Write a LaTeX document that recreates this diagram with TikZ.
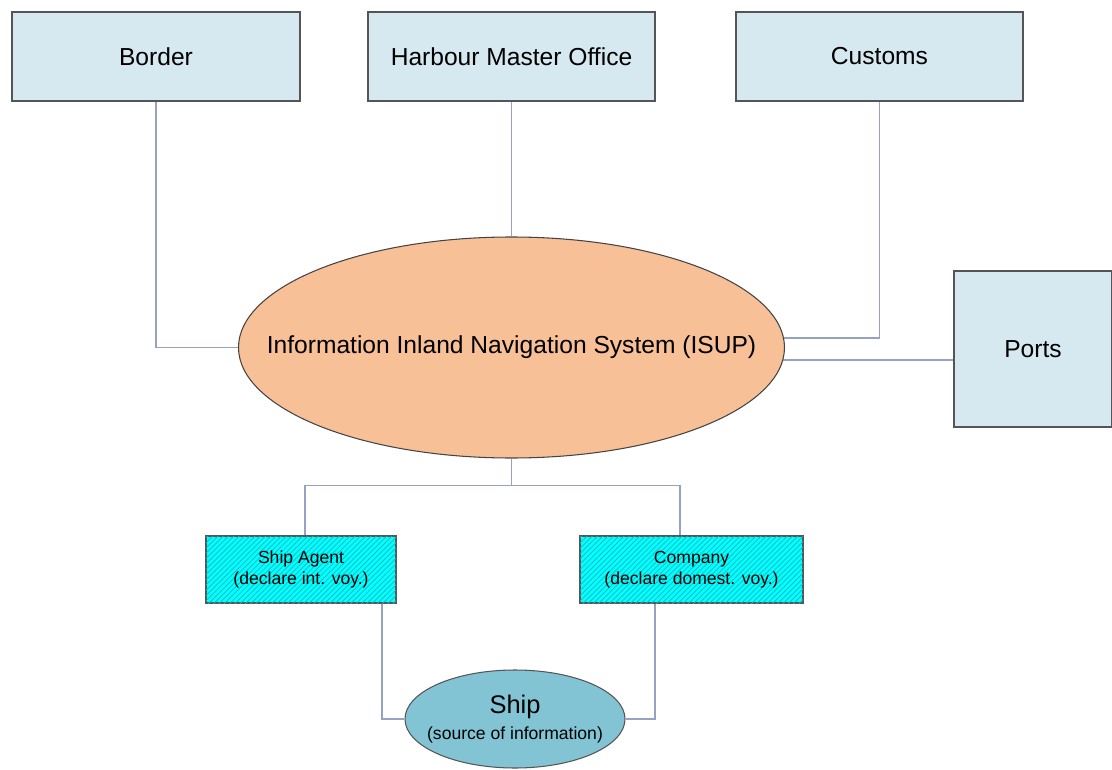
\documentclass[tikz,border=0pt]{standalone}
\usepackage{fontspec}
\setmainfont{Liberation Sans}
\usetikzlibrary{shapes.geometric,patterns,calc,backgrounds}
\definecolor{boxfill}{RGB}{214,233,241}
\definecolor{boxdraw}{RGB}{85,85,85}
\definecolor{conn}{RGB}{150,162,192}
\definecolor{isupfill}{RGB}{248,192,150}
\definecolor{shipfill}{RGB}{130,196,212}
\definecolor{agentfill}{RGB}{0,255,255}
\definecolor{hatch}{RGB}{30,180,190}
\tikzset{
  topbox/.style={draw=boxdraw, line width=0.8pt, fill=boxfill, inner sep=0pt,
    minimum height=89*0.02cm, font=\fontsize{14}{16}\selectfont},
  ellbig/.style={ellipse, draw=boxdraw!80!black, line width=0.6pt, fill=isupfill, inner sep=0pt,
    minimum width=546*0.02cm, minimum height=221*0.02cm, font=\fontsize{14}{16}\selectfont},
  hatchbox/.style={draw=boxdraw, line width=0.8pt, fill=agentfill,
    postaction={pattern=north east lines, pattern color=hatch},
    inner sep=0pt, minimum height=67*0.02cm, align=center,
    font=\fontsize{10}{12}\selectfont},
  shipell/.style={ellipse, draw=boxdraw, line width=0.6pt, fill=shipfill, inner sep=0pt,
    minimum width=220*0.02cm, minimum height=98*0.02cm, align=center},
  link/.style={draw=conn, line width=0.6pt}
}
\begin{document}
\begin{tikzpicture}[x=0.02cm,y=-0.02cm]
\useasboundingbox (0,0) rectangle (1112,770);
\node[topbox, minimum width=288*0.02cm] (border) at (156,56.5) {Border};
\node[topbox, minimum width=287*0.02cm] (hmo) at (511.5,56.5) {Harbour Master Office};
\node[topbox, minimum width=287*0.02cm] (customs) at (879.5,56.5) {Customs};
\node[topbox, minimum width=158*0.02cm, minimum height=156*0.02cm] (ports) at (1033,349) {Ports};
\node[ellbig] (isup) at (511.5,347.5) {\makebox[0pt]{Information Inland Navigation System (ISUP)}};
\node[hatchbox, minimum width=190*0.02cm] (agent) at (301,569.5) {Ship Agent\\(declare int. voy.)};
\node[hatchbox, minimum width=223*0.02cm] (company) at (691.5,569.5) {Company\\(declare domest. voy.)};
\node[shipell] (ship) at (515,719) {\makebox[0pt]{\fontsize{14.5}{16}\selectfont Ship}\\[3pt]\makebox[0pt]{\fontsize{10}{12}\selectfont (source of information)}};
\begin{scope}[on background layer]
\fill[white] (0,0) rectangle (1112,770);
\draw[link] (border.south) |- (isup.west);
\draw[link] (hmo.south) -- (isup.north);
\draw[link] (customs.south) |- ($(isup.east)+(-10,-9.5)$);
\draw[link] ($(isup.east)+(-10,12.5)$) -- (ports.west |- {$(isup.east)+(0,12.5)$});
\draw[link] (isup.south) -- ++(0,26.5) coordinate (j);
\draw[link] (j) -| ($(agent.north)+(4,0)$);
\draw[link] (j) -| ($(company.north)+(-11.5,0)$);
\draw[link] ($(agent.south)+(81,0)$) |- (ship.west);
\draw[link] ($(company.south)+(-36.5,0)$) |- (ship.east);
\end{scope}
\end{tikzpicture}
\end{document}
